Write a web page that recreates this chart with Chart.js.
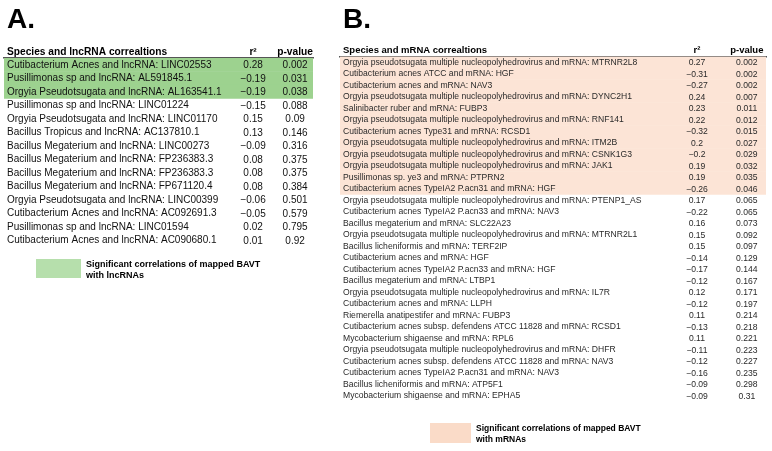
<!DOCTYPE html>
<html>
<head>
<meta charset="utf-8">
<script src="https://cdn.jsdelivr.net/npm/chart.js@4.4.0/dist/chart.umd.min.js"></script>
<style>
  html, body { margin: 0; padding: 0; background: #fff; }
  #wrap { position: relative; width: 772px; height: 451px; overflow: hidden; }
  #lncrna { position: absolute; left: 0; top: 0; }
  #mrna { position: absolute; left: 330px; top: 0; }
</style>
</head>
<body>
<div id="wrap">
  <canvas id="lncrna" width="330" height="451"></canvas>
  <canvas id="mrna" width="442" height="451"></canvas>
</div>
<script>
// panel A data
var lncLabels = [
  'Cutibacterium Acnes and lncRNA: LINC02553',
  'Pusillimonas sp and lncRNA: AL591845.1',
  'Orgyia Pseudotsugata and lncRNA: AL163541.1',
  'Pusillimonas sp and lncRNA: LINC01224',
  'Orgyia Pseudotsugata and lncRNA: LINC01170',
  'Bacillus Tropicus and lncRNA: AC137810.1',
  'Bacillus Megaterium and lncRNA: LINC00273',
  'Bacillus Megaterium and lncRNA: FP236383.3',
  'Bacillus Megaterium and lncRNA: FP236383.3',
  'Bacillus Megaterium and lncRNA: FP671120.4',
  'Orgyia Pseudotsugata and lncRNA: LINC00399',
  'Cutibacterium Acnes and lncRNA: AC092691.3',
  'Pusillimonas sp and lncRNA: LINC01594',
  'Cutibacterium Acnes and lncRNA: AC090680.1'
];
var lncR2 = [0.28, -0.19, -0.19, -0.15, 0.15, 0.13, -0.09, 0.08, 0.08, 0.08, -0.06, -0.05, 0.02, 0.01];
var lncP = [0.002, 0.031, 0.038, 0.088, 0.09, 0.146, 0.316, 0.375, 0.375, 0.384, 0.501, 0.579, 0.795, 0.92];

// panel B data
var mrnaLabels = [
  'Orgyia pseudotsugata multiple nucleopolyhedrovirus and mRNA: MTRNR2L8',
  'Cutibacterium acnes ATCC and mRNA: HGF',
  'Cutibacterium acnes and mRNA: NAV3',
  'Orgyia pseudotsugata multiple nucleopolyhedrovirus and mRNA: DYNC2H1',
  'Salinibacter ruber and mRNA: FUBP3',
  'Orgyia pseudotsugata multiple nucleopolyhedrovirus and mRNA: RNF141',
  'Cutibacterium acnes Type31 and mRNA: RCSD1',
  'Orgyia pseudotsugata multiple nucleopolyhedrovirus and mRNA: ITM2B',
  'Orgyia pseudotsugata multiple nucleopolyhedrovirus and mRNA: CSNK1G3',
  'Orgyia pseudotsugata multiple nucleopolyhedrovirus and mRNA: JAK1',
  'Pusillimonas sp. ye3 and mRNA: PTPRN2',
  'Cutibacterium acnes TypeIA2 P.acn31 and mRNA: HGF',
  'Orgyia pseudotsugata multiple nucleopolyhedrovirus and mRNA: PTENP1_AS',
  'Cutibacterium acnes TypeIA2 P.acn33 and mRNA: NAV3',
  'Bacillus megaterium and mRNA: SLC22A23',
  'Orgyia pseudotsugata multiple nucleopolyhedrovirus and mRNA: MTRNR2L1',
  'Bacillus licheniformis and mRNA: TERF2IP',
  'Cutibacterium acnes and mRNA: HGF',
  'Cutibacterium acnes TypeIA2 P.acn33 and mRNA: HGF',
  'Bacillus megaterium and mRNA: LTBP1',
  'Orgyia pseudotsugata multiple nucleopolyhedrovirus and mRNA: IL7R',
  'Cutibacterium acnes and mRNA: LLPH',
  'Riemerella anatipestifer and mRNA: FUBP3',
  'Cutibacterium acnes subsp. defendens ATCC 11828 and mRNA: RCSD1',
  'Mycobacterium shigaense and mRNA: RPL6',
  'Orgyia pseudotsugata multiple nucleopolyhedrovirus and mRNA: DHFR',
  'Cutibacterium acnes subsp. defendens ATCC 11828 and mRNA: NAV3',
  'Cutibacterium acnes TypeIA2 P.acn31 and mRNA: NAV3',
  'Bacillus licheniformis and mRNA: ATP5F1',
  'Mycobacterium shigaense and mRNA: EPHA5'
];
var mrnaR2 = [0.27, -0.31, -0.27, 0.24, 0.23, 0.22, -0.32, 0.2, -0.2, 0.19, 0.19, -0.26,
  0.17, -0.22, 0.16, 0.15, 0.15, -0.14, -0.17, -0.12, 0.12, -0.12, 0.11, -0.13, 0.11,
  -0.11, -0.12, -0.16, -0.09, -0.09];
var mrnaP = [0.002, 0.002, 0.002, 0.007, 0.011, 0.012, 0.015, 0.027, 0.029, 0.032, 0.035, 0.046,
  0.065, 0.065, 0.073, 0.092, 0.097, 0.129, 0.144, 0.167, 0.171, 0.197, 0.214, 0.218, 0.221,
  0.223, 0.227, 0.235, 0.298, 0.31];

var headA = ['Species and lncRNA correaltions', 'r\u00b2', 'p-value'];
var headB = ['Species and mRNA correaltions', 'r\u00b2', 'p-value'];
var legendA = ['Significant correlations of mapped BAVT', 'with lncRNAs'];
var legendB = ['Significant correlations of mapped BAVT', 'with mRNAs'];

var FONT = '"Liberation Sans", Arial, sans-serif';

function fmt(v) {
    return String(v).replace('-', '\u2212');
}

// draws panel letter, header row, value columns and the legend box
var tableText = {
    id: 'tableText',
    afterDraw: function(chart) {
        var o = chart.options.plugins.tableText;
        var ctx = chart.ctx;
        var x = chart.scales.x;
        var y = chart.scales.y;
        var top = chart.chartArea.top;
        ctx.save();
        ctx.fillStyle = '#000';
        ctx.textAlign = 'left';
        ctx.textBaseline = 'alphabetic';
        ctx.font = 'bold 28px ' + FONT;
        ctx.fillText(o.letter, o.letterX, 28);

        ctx.font = 'bold ' + o.headSize + 'px ' + FONT;
        ctx.fillText(o.head[0], x.left + 3, top - 3.5);
        ctx.textAlign = 'center';
        ctx.fillText(o.head[1], x.getPixelForValue(o.cols[0]), top - 3.5);
        ctx.fillText(o.head[2], x.getPixelForValue(o.cols[1]), top - 3.5);

        ctx.fillStyle = o.color;
        ctx.font = o.size + 'px ' + FONT;
        ctx.textBaseline = 'middle';
        for (var i = 0; i < o.r2.length; i++) {
            var py = y.getPixelForValue(i);
            ctx.fillText(fmt(o.r2[i]), x.getPixelForValue(o.cols[0]), py + 0.5);
            ctx.fillText(String(o.p[i]), x.getPixelForValue(o.cols[1]), py + 0.5);
        }

        var lg = o.legend;
        ctx.fillStyle = lg.color;
        ctx.fillRect(lg.x, lg.y, lg.w, lg.h);
        ctx.fillStyle = '#000';
        ctx.textAlign = 'left';
        ctx.font = 'bold ' + lg.size + 'px ' + FONT;
        ctx.fillText(lg.text[0], lg.x + lg.w + 5, lg.y + lg.line1);
        ctx.fillText(lg.text[1], lg.x + lg.w + 5, lg.y + lg.line1 + lg.gap);
        ctx.restore();
    }
};

function makeTable(el, labels, r2, p, cfg) {
    var band = p.map(function(v) { return v < 0.05 ? [0, 100] : null; });
    return new Chart(document.getElementById(el).getContext('2d'), {
        type: 'bar',
        data: {
            labels: labels,
            datasets: [{
                data: band,
                backgroundColor: cfg.band,
                borderWidth: 0,
                barPercentage: 1,
                categoryPercentage: 1
            }]
        },
        options: {
            indexAxis: 'y',
            responsive: false,
            animation: false,
            events: [],
            layout: { padding: cfg.padding },
            scales: {
                x: {
                    type: 'linear',
                    position: 'top',
                    min: 0,
                    max: 100,
                    grid: { display: false, drawTicks: false },
                    ticks: { display: false },
                    border: { display: true, color: '#555', width: 1.5 }
                },
                y: {
                    type: 'category',
                    afterFit: function(scale) { scale.width = 3; },
                    grid: { display: false, drawTicks: false },
                    border: { display: false },
                    ticks: {
                        z: 1,
                        mirror: true,
                        padding: 3,
                        autoSkip: false,
                        color: cfg.color,
                        font: { family: FONT, size: cfg.size }
                    }
                }
            },
            plugins: {
                legend: { display: false },
                tooltip: { enabled: false },
                tableText: {
                    letter: cfg.letter,
                    letterX: cfg.letterX,
                    head: cfg.head,
                    headSize: cfg.headSize,
                    cols: cfg.cols,
                    r2: r2,
                    p: p,
                    size: cfg.size,
                    color: cfg.color,
                    legend: cfg.legend
                }
            }
        },
        plugins: [tableText]
    });
}

makeTable('lncrna', lncLabels, lncR2, lncP, {
    band: '#9dd28f',
    color: '#111',
    size: 10,
    headSize: 10.2,
    letter: 'A.',
    letterX: 7,
    head: headA,
    cols: [80.6, 94.2],
    padding: { left: 1, right: 17, top: 58, bottom: 451 - 58 - 14 * 13.5 },
    legend: { x: 36, y: 259, w: 45, h: 19, color: '#b6dfac', size: 9, text: legendA, line1: 6, gap: 11 }
});

makeTable('mrna', mrnaLabels, mrnaR2, mrnaP, {
    band: '#fce4d6',
    color: '#2a2a2a',
    size: 8.6,
    headSize: 9.5,
    letter: 'B.',
    letterX: 13,
    head: headB,
    cols: [83.8, 95.5],
    padding: { left: 7, right: 6, top: 56.5, bottom: 451 - 56.5 - 30 * 11.5 },
    legend: { x: 100, y: 423, w: 41, h: 20, color: '#fadbc8', size: 8.5, text: legendB, line1: 6, gap: 11 }
});
</script>
</body>
</html>
